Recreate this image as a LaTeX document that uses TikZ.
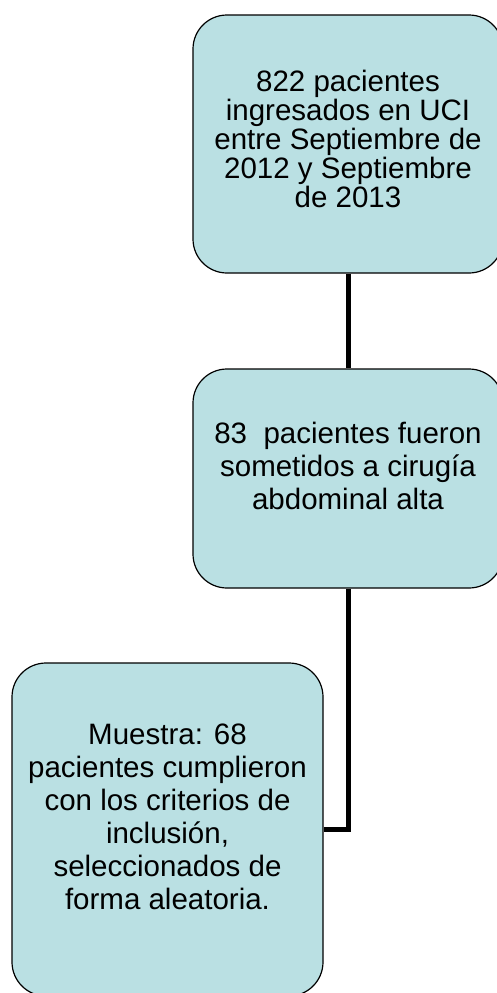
\documentclass[tikz,border=0pt]{standalone}
\usepackage{fontspec}
\setmainfont{Liberation Sans}
\definecolor{boxfill}{RGB}{186,224,227}
\begin{document}
\begin{tikzpicture}[x=1pt,y=-1pt,
	paso/.style={draw=black,line width=1.2pt,fill=boxfill,rounded corners=34pt,inner sep=0pt},
	texto/.style={align=center,inner sep=0pt,font=\fontsize{29.5}{33}\selectfont},
	enlace/.style={line width=5pt}]
\useasboundingbox (0,0) rectangle (497,993);
\clip (0,0) rectangle (497,993);
\node (total) [paso,minimum width=310pt,minimum height=258pt] at (348,144) {};
\node (cirugia) [paso,minimum width=310pt,minimum height=219pt] at (348,478.5) {};
\node (muestra) [paso,minimum width=311pt,minimum height=333pt] at (167.5,829.5) {};
\node (totaltxt) [texto,font=\fontsize{29.5}{29}\selectfont] at ([yshift=5pt]total.center)
	{822 pacientes\\ingresados en UCI\\entre Septiembre de\\2012 y Septiembre\\de 2013};
\node (cirugiatxt) [texto] at ([yshift=13pt]cirugia.center)
	{83\ \ pacientes fueron\\sometidos a cirugía\\abdominal alta};
\node (muestratxt) [texto] at ([yshift=13pt]muestra.center)
	{Muestra: 68\\pacientes cumplieron\\con los criterios de\\inclusión,\\seleccionados de\\forma aleatoria.};
\draw [enlace] (total) -- (cirugia);
\draw [enlace] (cirugia.south) |- (muestra.east);
\end{tikzpicture}
\end{document}
